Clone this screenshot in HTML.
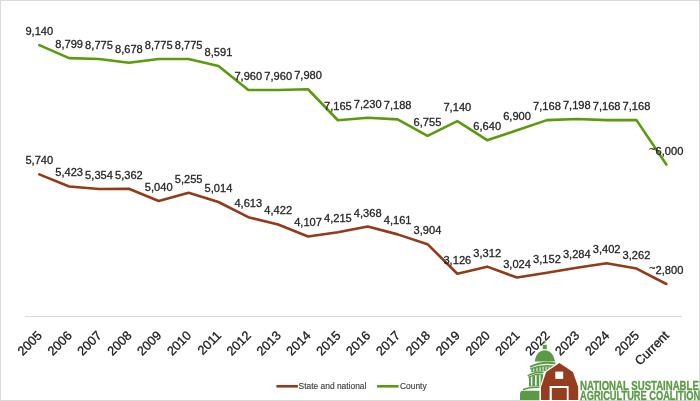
<!DOCTYPE html>
<html><head><meta charset="utf-8">
<style>
html,body{margin:0;padding:0;background:#fff;}
body{width:700px;height:401px;overflow:hidden;position:relative;}
svg{position:absolute;left:0;top:0;will-change:transform;}
</style></head>
<body>
<svg width="700" height="401" viewBox="0 0 700 401">
<rect x="0.5" y="0.5" width="699" height="400" fill="#fff" stroke="#d9d9d9" stroke-width="1"/>
<line x1="25" y1="316.5" x2="682" y2="316.5" stroke="#d9d9d9" stroke-width="1"/>
<polyline points="39.30,174.38 69.16,186.43 99.02,189.05 128.88,188.74 158.74,200.98 188.60,192.81 218.46,201.97 248.32,217.21 278.18,224.46 308.04,236.43 337.90,232.33 367.76,226.52 397.62,234.38 427.48,244.15 457.34,273.71 487.20,266.64 517.06,277.59 546.92,272.72 576.78,267.71 606.64,263.22 636.50,268.54 666.36,284.01" fill="none" stroke="#933b19" stroke-width="2.6" stroke-linejoin="round" stroke-linecap="round"/>
<polyline points="39.30,45.18 69.16,58.14 99.02,59.05 128.88,62.74 158.74,59.05 188.60,59.05 218.46,66.04 248.32,90.02 278.18,90.02 308.04,89.26 337.90,120.23 367.76,117.76 397.62,119.36 427.48,135.81 457.34,121.18 487.20,140.18 517.06,130.30 546.92,120.12 576.78,118.98 606.64,120.12 636.50,120.12 666.36,164.50" fill="none" stroke="#5b9a0c" stroke-width="2.6" stroke-linejoin="round" stroke-linecap="round"/>
<g font-family="Liberation Sans, sans-serif" font-size="10.9" fill="#262626" stroke="#262626" stroke-width="0.3" stroke-linejoin="round">
<text transform="translate(39.30,35.18) scale(1.02,0.93)" text-anchor="middle">9,140</text><text transform="translate(69.16,48.14) scale(1.02,0.93)" text-anchor="middle">8,799</text><text transform="translate(99.02,49.05) scale(1.02,0.93)" text-anchor="middle">8,775</text><text transform="translate(128.88,52.74) scale(1.02,0.93)" text-anchor="middle">8,678</text><text transform="translate(158.74,49.05) scale(1.02,0.93)" text-anchor="middle">8,775</text><text transform="translate(188.60,49.05) scale(1.02,0.93)" text-anchor="middle">8,775</text><text transform="translate(218.46,56.04) scale(1.02,0.93)" text-anchor="middle">8,591</text><text transform="translate(248.32,80.02) scale(1.02,0.93)" text-anchor="middle">7,960</text><text transform="translate(278.18,80.02) scale(1.02,0.93)" text-anchor="middle">7,960</text><text transform="translate(308.04,79.26) scale(1.02,0.93)" text-anchor="middle">7,980</text><text transform="translate(337.90,110.23) scale(1.02,0.93)" text-anchor="middle">7,165</text><text transform="translate(367.76,107.76) scale(1.02,0.93)" text-anchor="middle">7,230</text><text transform="translate(397.62,109.36) scale(1.02,0.93)" text-anchor="middle">7,188</text><text transform="translate(427.48,125.81) scale(1.02,0.93)" text-anchor="middle">6,755</text><text transform="translate(457.34,111.18) scale(1.02,0.93)" text-anchor="middle">7,140</text><text transform="translate(487.20,130.18) scale(1.02,0.93)" text-anchor="middle">6,640</text><text transform="translate(517.06,120.30) scale(1.02,0.93)" text-anchor="middle">6,900</text><text transform="translate(546.92,110.12) scale(1.02,0.93)" text-anchor="middle">7,168</text><text transform="translate(576.78,108.98) scale(1.02,0.93)" text-anchor="middle">7,198</text><text transform="translate(606.64,110.12) scale(1.02,0.93)" text-anchor="middle">7,168</text><text transform="translate(636.50,110.12) scale(1.02,0.93)" text-anchor="middle">7,168</text><text transform="translate(666.36,154.50) scale(1.02,0.93)" text-anchor="middle"><tspan dy="-2.8" font-size="10.4">~</tspan><tspan dy="2.8">6,000</tspan></text><text transform="translate(39.30,164.38) scale(1.02,0.93)" text-anchor="middle">5,740</text><text transform="translate(69.16,176.43) scale(1.02,0.93)" text-anchor="middle">5,423</text><text transform="translate(99.02,179.05) scale(1.02,0.93)" text-anchor="middle">5,354</text><text transform="translate(128.88,178.74) scale(1.02,0.93)" text-anchor="middle">5,362</text><text transform="translate(158.74,190.98) scale(1.02,0.93)" text-anchor="middle">5,040</text><text transform="translate(188.60,182.81) scale(1.02,0.93)" text-anchor="middle">5,255</text><text transform="translate(218.46,191.97) scale(1.02,0.93)" text-anchor="middle">5,014</text><text transform="translate(248.32,207.21) scale(1.02,0.93)" text-anchor="middle">4,613</text><text transform="translate(278.18,214.46) scale(1.02,0.93)" text-anchor="middle">4,422</text><text transform="translate(308.04,226.43) scale(1.02,0.93)" text-anchor="middle">4,107</text><text transform="translate(337.90,222.33) scale(1.02,0.93)" text-anchor="middle">4,215</text><text transform="translate(367.76,216.52) scale(1.02,0.93)" text-anchor="middle">4,368</text><text transform="translate(397.62,224.38) scale(1.02,0.93)" text-anchor="middle">4,161</text><text transform="translate(427.48,234.15) scale(1.02,0.93)" text-anchor="middle">3,904</text><text transform="translate(457.34,263.71) scale(1.02,0.93)" text-anchor="middle">3,126</text><text transform="translate(487.20,256.64) scale(1.02,0.93)" text-anchor="middle">3,312</text><text transform="translate(517.06,267.59) scale(1.02,0.93)" text-anchor="middle">3,024</text><text transform="translate(546.92,262.72) scale(1.02,0.93)" text-anchor="middle">3,152</text><text transform="translate(576.78,257.71) scale(1.02,0.93)" text-anchor="middle">3,284</text><text transform="translate(606.64,253.22) scale(1.02,0.93)" text-anchor="middle">3,402</text><text transform="translate(636.50,258.54) scale(1.02,0.93)" text-anchor="middle">3,262</text><text transform="translate(666.36,274.01) scale(1.02,0.93)" text-anchor="middle"><tspan dy="-2.8" font-size="10.4">~</tspan><tspan dy="2.8">2,800</tspan></text>
</g>
<g font-family="Liberation Sans, sans-serif" font-size="12.7" fill="#1a1a1a" stroke="#1a1a1a" stroke-width="0.3" stroke-linejoin="round">
<text transform="translate(42.80,336.2) rotate(-45)" text-anchor="end">2005</text><text transform="translate(72.66,336.2) rotate(-45)" text-anchor="end">2006</text><text transform="translate(102.52,336.2) rotate(-45)" text-anchor="end">2007</text><text transform="translate(132.38,336.2) rotate(-45)" text-anchor="end">2008</text><text transform="translate(162.24,336.2) rotate(-45)" text-anchor="end">2009</text><text transform="translate(192.10,336.2) rotate(-45)" text-anchor="end">2010</text><text transform="translate(221.96,336.2) rotate(-45)" text-anchor="end">2011</text><text transform="translate(251.82,336.2) rotate(-45)" text-anchor="end">2012</text><text transform="translate(281.68,336.2) rotate(-45)" text-anchor="end">2013</text><text transform="translate(311.54,336.2) rotate(-45)" text-anchor="end">2014</text><text transform="translate(341.40,336.2) rotate(-45)" text-anchor="end">2015</text><text transform="translate(371.26,336.2) rotate(-45)" text-anchor="end">2016</text><text transform="translate(401.12,336.2) rotate(-45)" text-anchor="end">2017</text><text transform="translate(430.98,336.2) rotate(-45)" text-anchor="end">2018</text><text transform="translate(460.84,336.2) rotate(-45)" text-anchor="end">2019</text><text transform="translate(490.70,336.2) rotate(-45)" text-anchor="end">2020</text><text transform="translate(520.56,336.2) rotate(-45)" text-anchor="end">2021</text><text transform="translate(550.42,336.2) rotate(-45)" text-anchor="end">2022</text><text transform="translate(580.28,336.2) rotate(-45)" text-anchor="end">2023</text><text transform="translate(610.14,336.2) rotate(-45)" text-anchor="end">2024</text><text transform="translate(640.00,336.2) rotate(-45)" text-anchor="end">2025</text><text transform="translate(669.86,336.2) rotate(-45)" text-anchor="end">Current</text>
</g>
<g font-family="Liberation Sans, sans-serif" font-size="9" fill="#404040" stroke="#404040" stroke-width="0.15" stroke-linejoin="round">
<line x1="276.4" y1="386.3" x2="297.9" y2="386.3" stroke="#933b19" stroke-width="2.6"/>
<text x="298.6" y="389" textLength="67.8" lengthAdjust="spacingAndGlyphs">State and national</text>
<line x1="377.1" y1="386.3" x2="398.6" y2="386.3" stroke="#5b9a0c" stroke-width="2.6"/>
<text x="400" y="389" textLength="26.6" lengthAdjust="spacingAndGlyphs">County</text>
</g>
<g id="logo">
<rect x="544.1" y="340.8" width="1.3" height="2.6" fill="#5a9a44"/>
<rect x="542.8" y="344.8" width="4" height="4.4" fill="#5a9a44"/>
<path d="M534.6,361.6 C535.6,358.5 536.4,350.6 544.75,350.3 C553,350.6 554,358.5 555.2,361.6 Z" fill="#5a9a44"/>
<path d="M530,366.9 Q542,361.0 555.5,363.5" fill="none" stroke="#5a9a44" stroke-width="1.8"/>
<path d="M530.3,368.9 Q542,364.4 554,366.3" fill="none" stroke="#5a9a44" stroke-width="1.4"/>
<path d="M531.3,368.53 Q542,365.2 553.5,366.62 L553.5,370.2 L531.3,372.2 Z" fill="#5a9a44"/>
<rect x="533.3" y="368.61" width="0.95" height="2.91" fill="#fff"/>
<rect x="536.5" y="367.76" width="0.95" height="3.47" fill="#fff"/>
<rect x="539.6" y="367.17" width="0.95" height="3.78" fill="#fff"/>
<rect x="542.6" y="366.80" width="0.95" height="3.88" fill="#fff"/>
<rect x="545.6" y="366.64" width="0.95" height="3.77" fill="#fff"/>
<rect x="548.6" y="366.69" width="0.95" height="3.45" fill="#fff"/>
<rect x="551.6" y="366.93" width="0.95" height="2.94" fill="#fff"/>
<path d="M527.6,375.6 Q535.5,371.6 543.6,372.4" fill="none" stroke="#5a9a44" stroke-width="1.3"/>
<path d="M528.3,377.4 Q535.7,373.6 543.2,374.3" fill="none" stroke="#5a9a44" stroke-width="1.2"/>
<path d="M529,377.45 Q535.7,374.4 543.2,374.80 L543.2,386.0 L529,386.4 Z" fill="#5a9a44"/>
<rect x="530.9" y="376.83" width="1.4" height="8.87" fill="#fff"/>
<rect x="535.0" y="375.61" width="1.6" height="10.09" fill="#fff"/>
<rect x="539.2" y="375.11" width="1.3" height="10.59" fill="#fff"/>
<path d="M523,389.5 Q530,386.9 539.5,387.3" fill="none" stroke="#5a9a44" stroke-width="1.6"/>
<path d="M520,400 L520,393.2 Q520.3,390.8 523,390.8 L539.5,390.8 L539.5,400 Z" fill="#5a9a44"/>
<path d="M559.4,363 L572.9,372 L578.2,387 L578.2,400 L541,400 L541,387 L546.2,372 Z" fill="#fff" stroke="#fff" stroke-width="2.4" stroke-linejoin="miter"/>
<path d="M559.4,363 L572.9,372 L578.2,387 L578.2,400 L541,400 L541,387 L546.2,372 Z" fill="#943d1f"/>
<rect x="555.3" y="371.6" width="7.9" height="7.3" fill="#fff"/>
<rect x="549.6" y="386" width="19" height="14" fill="#fff"/>
<rect x="551.8" y="388" width="15" height="12" fill="#943d1f"/>
<g font-family="Liberation Sans, sans-serif" font-weight="bold" font-size="12.1" fill="#5a9a44" stroke="#5a9a44" stroke-width="0.35" stroke-linejoin="round">
<text x="580" y="389.9" textLength="118.8" lengthAdjust="spacingAndGlyphs">NATIONAL SUSTAINABLE</text>
<text x="580" y="400.1" textLength="120.2" lengthAdjust="spacingAndGlyphs">AGRICULTURE COALITION</text>
</g>
</g>
</svg>
</body></html>
